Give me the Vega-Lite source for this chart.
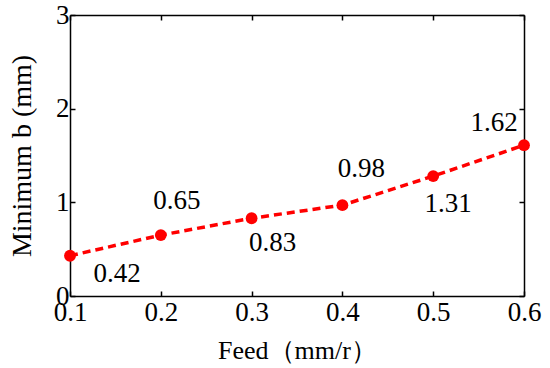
{
  "$schema": "https://vega.github.io/schema/vega-lite/v6.json",
  "width": 454,
  "height": 281,
  "autosize": "none",
  "padding": {"left": 70, "top": 15, "right": 26, "bottom": 72},
  "background": "white",
  "config": {
    "view": {"stroke": null},
    "font": "Liberation Serif",
    "axis": {
      "domainColor": "black",
      "domainWidth": 1.5,
      "tickColor": "black",
      "tickWidth": 1.5,
      "tickSize": -5,
      "grid": false,
      "labelFlush": false,
      "labelFont": "Liberation Serif",
      "labelFontSize": 27,
      "labelColor": "black",
      "titleFont": "Liberation Serif",
      "titleFontSize": 26,
      "titleFontWeight": "normal",
      "titleColor": "black"
    }
  },
  "data": {
    "values": [
      {"feed": 0.1, "b": 0.43, "label": "0.42"},
      {"feed": 0.2, "b": 0.65, "label": "0.65"},
      {"feed": 0.3, "b": 0.83, "label": "0.83"},
      {"feed": 0.4, "b": 0.97, "label": "0.98"},
      {"feed": 0.5, "b": 1.28, "label": "1.31"},
      {"feed": 0.6, "b": 1.61, "label": "1.62"}
    ]
  },
  "encoding": {
    "x": {"field": "feed", "type": "quantitative", "axis": null, "scale": {"domain": [0.1, 0.6], "nice": false, "zero": false}},
    "y": {"field": "b", "type": "quantitative", "axis": null, "scale": {"domain": [0, 3], "nice": false}}
  },
  "layer": [
    {
      "mark": {"type": "line", "color": "#ff0000", "strokeWidth": 3.5, "strokeDash": [8, 5]},
      "encoding": {
        "x": {"field": "feed", "type": "quantitative", "axis": {"orient": "bottom", "title": "Feed（mm/r）", "values": [0.1, 0.2, 0.3, 0.4, 0.5, 0.6], "format": ".1f", "labelPadding": 8, "titlePadding": 12}},
        "y": {"field": "b", "type": "quantitative", "axis": {"orient": "left", "title": "Minimum b (mm)", "titleFontSize": 28, "values": [0, 1, 2, 3], "format": "d", "labelPadding": 6, "titlePadding": 19}}
      }
    },
    {
      "mark": {"type": "circle", "color": "#ff0000", "opacity": 1, "size": 140},
      "encoding": {
        "x": {"field": "feed", "type": "quantitative", "axis": {"orient": "top", "title": null, "labels": false, "values": [0.1, 0.2, 0.3, 0.4, 0.5, 0.6]}},
        "y": {"field": "b", "type": "quantitative", "axis": {"orient": "right", "title": null, "labels": false, "values": [0, 1, 2, 3]}}
      }
    },
    {
      "transform": [{"filter": "datum.feed == 0.1"}],
      "mark": {"type": "text", "fontSize": 27, "font": "Liberation Serif", "color": "black", "dx": 47, "dy": 18},
      "encoding": {"text": {"field": "label"}}
    },
    {
      "transform": [{"filter": "datum.feed == 0.2"}],
      "mark": {"type": "text", "fontSize": 27, "font": "Liberation Serif", "color": "black", "dx": 16, "dy": -34},
      "encoding": {"text": {"field": "label"}}
    },
    {
      "transform": [{"filter": "datum.feed == 0.3"}],
      "mark": {"type": "text", "fontSize": 27, "font": "Liberation Serif", "color": "black", "dx": 21, "dy": 25},
      "encoding": {"text": {"field": "label"}}
    },
    {
      "transform": [{"filter": "datum.feed == 0.4"}],
      "mark": {"type": "text", "fontSize": 27, "font": "Liberation Serif", "color": "black", "dx": 19, "dy": -36},
      "encoding": {"text": {"field": "label"}}
    },
    {
      "transform": [{"filter": "datum.feed == 0.5"}],
      "mark": {"type": "text", "fontSize": 27, "font": "Liberation Serif", "color": "black", "dx": 15, "dy": 28},
      "encoding": {"text": {"field": "label"}}
    },
    {
      "transform": [{"filter": "datum.feed == 0.6"}],
      "mark": {"type": "text", "fontSize": 27, "font": "Liberation Serif", "color": "black", "dx": -30, "dy": -22},
      "encoding": {"text": {"field": "label"}}
    }
  ],
  "resolve": {"axis": {"x": "independent", "y": "independent"}}
}
